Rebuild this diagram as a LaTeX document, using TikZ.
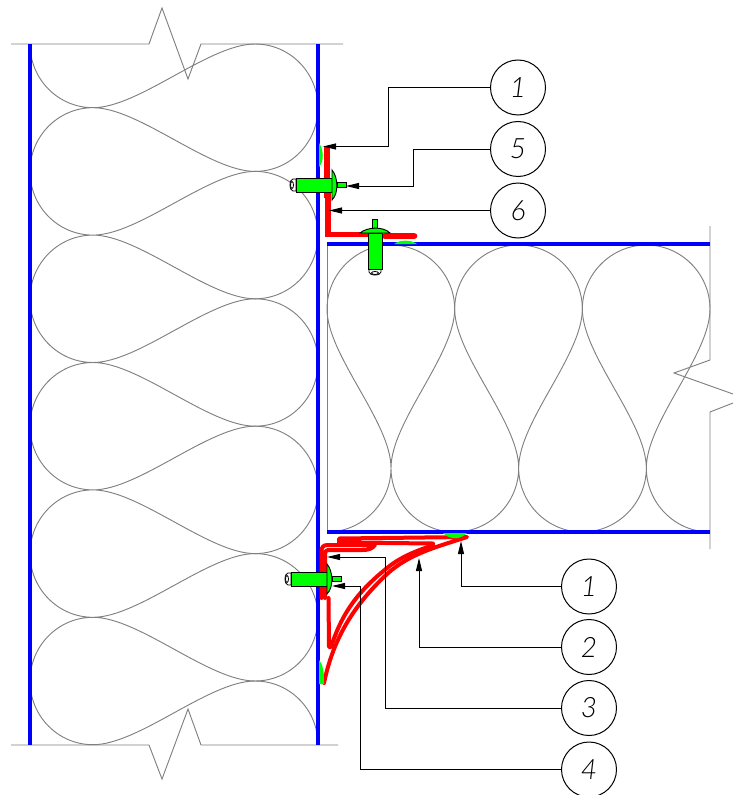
\documentclass[tikz,border=0pt]{standalone}
\usepackage{fontspec}
\newfontfamily\calloutfont{Lato Light Italic}
\usetikzlibrary{arrows.meta}
\definecolor{wallblue}{RGB}{0,0,255}
\definecolor{sheetred}{RGB}{255,0,0}
\definecolor{rivetgreen}{RGB}{0,255,0}
\definecolor{battgrey}{RGB}{128,128,128}
\tikzset{panel/.style={draw=wallblue,line width=3pt}}
\tikzset{batt/.style={draw=battgrey,line width=0.7pt}}
\tikzset{sheet/.style={draw=sheetred,line width=3pt,line cap=round,line join=round}}
\tikzset{glue/.style={fill=rivetgreen,draw=none}}
\tikzset{leader/.style={draw=black,line width=0.7pt,-{Triangle[length=9.75pt,width=4.5pt]}}}
\tikzset{callout/.style={circle,draw=black,line width=0.75pt,fill=white,minimum size=41.25pt,inner sep=0pt,font=\calloutfont\fontsize{21}{21}\selectfont}}
\tikzset{rivetpart/.style={fill=rivetgreen,draw=black,line width=0.7pt}}
\tikzset{pics/rivet/.style={code={
    \draw[fill=white,draw=black,line width=0.6pt] (-36,-6) -- (-39,-6) arc (270:90:3 and 6) -- (-36,6) -- cycle;
    \draw[line width=0.6pt] (-40,0) ellipse (1.5 and 3.5);
    \draw[rivetpart] (-36,-7) rectangle (0,7);
    \draw[rivetpart] (5,-2.5) rectangle (14,2.5);
    \draw[rivetpart] (0,-15) .. controls (6,-8) and (7,8) .. (0,15) -- cycle;
}}}
\tikzset{pics/wallbatt/.style={code={
    \draw[batt] (0,0) .. controls +(0,35) and +(-35,0) .. (63,63.7)
      .. controls +(46,0) and +(-46,0) .. (225,0)
      .. controls +(35,0) and +(0,-35) .. (288,63.7)
      .. controls +(0,35) and +(35,0) .. (225,127.4)
      .. controls +(-46,0) and +(46,0) .. (63,63.7)
      .. controls +(-35,0) and +(0,-35) .. (0,127.4);
}}}
\tikzset{pics/roofbatt/.style={code={
    \draw[batt] (0,0) .. controls +(35,0) and +(0,35) .. (64,-64)
      .. controls +(0,-46) and +(0,46) .. (0,-223)
      .. controls +(0,-35) and +(-35,0) .. (64,-287)
      .. controls +(35,0) and +(0,-35) .. (127.67,-223)
      .. controls +(0,46) and +(0,-46) .. (64,-64)
      .. controls +(0,35) and +(-35,0) .. (127.67,0);
}}}
\begin{document}
\begin{tikzpicture}[x=0.75pt,y=-0.75pt]
    \useasboundingbox (0,0) rectangle (733,795);

    % insulation in the wall
    \pic at (30,44) {wallbatt};
    \pic at (30,171.4) {wallbatt};
    \pic at (30,298.8) {wallbatt};
    \pic at (30,426.2) {wallbatt};
    \pic at (30,553.6) {wallbatt};
    \draw[batt] (30,681) .. controls +(0,35) and +(-35,0) .. (93,744.7)
      .. controls +(46,0) and +(-46,0) .. (255,681)
      .. controls +(35,0) and +(0,-35) .. (318,744.7);

    % insulation in the roof
    \pic at (327,532) {roofbatt};
    \pic at (454.67,532) {roofbatt};
    \pic at (582.33,532) {roofbatt};

    % break lines
    \draw[batt] (11,44) -- (149,44) -- (162,8) -- (188,79) -- (201,44) -- (343,44);
    \draw[batt] (11,745) -- (149,745) -- (162,779) -- (188,709) -- (201,745) -- (338,745);
    \draw[batt] (710,226) -- (710,360) -- (674,373) -- (733,394);
    \draw[batt] (733,403) -- (710,412) -- (710,549);
    \draw[batt] (327.5,244) -- (327.5,532);

    \draw[panel] (30,44) -- (30,745);
    \draw[panel] (318,44) -- (318,745);
    \draw[panel] (327,244) -- (710,244);
    \draw[panel] (327,532) -- (710,532);

    % upper angle
    \draw[sheet,line width=4.8pt,line cap=butt] (327,147) -- (327,198);
    \draw[sheet,line width=3.8pt,line cap=butt,line join=miter] (328,190) -- (328,234.5) -- (372,234.5);
    \draw[sheet,line width=5pt] (385,236) -- (414,236);
    \path[glue] (319,143) .. controls (324,150) and (324,162) .. (319,167) -- cycle;
    \path[glue] (394,244) .. controls (400,239.5) and (411,239.5) .. (417,244) -- cycle;

    % lower bracket
    \draw[sheet] (324,683) .. controls (333,640) and (352,607) .. (387,574)
      .. controls (410,553) and (440,546) .. (467,537) -- (339,538.5) -- (339,542.5) -- (433,543.5);
    \draw[sheet] (328.5,598) -- (329,647) -- (331,647) .. controls (343,610) and (360,590) .. (387,568)
      .. controls (403,555) and (420,550) .. (433,545);
    \draw[sheet] (321.5,598) -- (321.5,552) .. controls (321.5,547) and (323,545) .. (328,545) -- (375,545)
      .. controls (372,549) and (368,550) .. (362,550) -- (328,550) .. controls (326,550) and (325,552) .. (325,554) -- (325,598);
    \path[glue] (319,660) .. controls (324,666) and (324,675) .. (324,684) -- (319,684) -- cycle;
    \path[glue] (443,533) .. controls (450,540) and (460,540) .. (467,533) -- cycle;

    \pic at (332,185) {rivet};
    \pic[rotate=90] at (375,233) {rivet};
    \pic at (327,579) {rivet};

    \node[callout] at (518,87.5) (n1){1};
    \node[callout] at (518,149) (n5){5};
    \node[callout] at (518,210.5) (n6){6};
    \node[callout] at (589,586.5) (m1){1};
    \node[callout] at (589,647) (m2){2};
    \node[callout] at (589,708) (m3){3};
    \node[callout] at (589,769.5) (m4){4};

    \coordinate (n1bend) at (388,146.5);
    \coordinate (n1tip) at (323,146.5);
    \coordinate (n5bend) at (413,186);
    \coordinate (n5tip) at (346,186);
    \coordinate (n6tip) at (329,210.5);
    \coordinate (m1tip) at (461,541);
    \coordinate (m2tip) at (419,558);
    \coordinate (m3bend) at (385,557);
    \coordinate (m3tip) at (327,557);
    \coordinate (m4bend) at (360,586);
    \coordinate (m4tip) at (332,586);

    \draw[leader] (n1.west) -| (n1bend) -- (n1tip);
    \draw[leader] (n5.west) -| (n5bend) -- (n5tip);
    \draw[leader] (n6.west) -- (n6tip);
    \draw[leader] (m1.west) -| (m1tip);
    \draw[leader] (m2.west) -| (m2tip);
    \draw[leader] (m3.west) -| (m3bend) -- (m3tip);
    \draw[leader] (m4.west) -| (m4bend) -- (m4tip);
\end{tikzpicture}
\end{document}
